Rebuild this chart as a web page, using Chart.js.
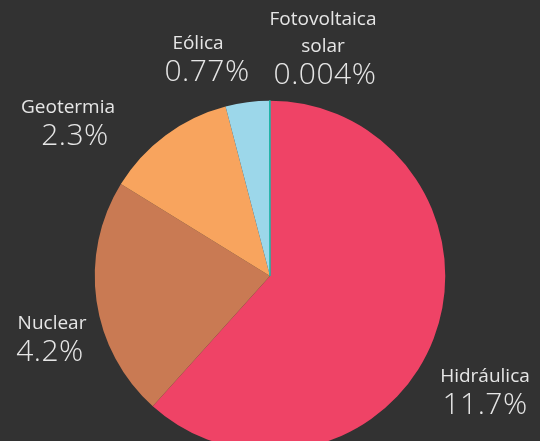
<!DOCTYPE html>
<html>
<head>
<meta charset="utf-8">
<script src="https://cdn.jsdelivr.net/npm/chart.js@4.4.1/dist/chart.umd.min.js"></script>
<style>
    html, body { margin: 0; padding: 0; background: #323232; overflow: hidden; }
    #wrap { width: 540px; height: 452px; }
</style>
</head>
<body>
<div id="wrap"><canvas id="pie" width="540" height="452"></canvas></div>
<script>
// Datos (porcentaje de la generación)
const categories = ['Hidráulica', 'Nuclear', 'Geotermia', 'Eólica', 'Fotovoltaica solar'];
const values = [11.7, 4.2, 2.3, 0.77, 0.004];
const valueLabels = ['11.7%', '4.2%', '2.3%', '0.77%', '0.004%'];
const colors = ['#ef4366', '#c97a53', '#f8a45e', '#9cd7ea', '#1db5a8'];

// label name lines + anchor (centre of text block)
const labelLayout = [
    { lines: ['Hidráulica'], x: 485, y: 377, dx: 0 },
    { lines: ['Nuclear'], x: 52, y: 324, dx: -2 },
    { lines: ['Geotermia'], x: 68, y: 108, dx: 7 },
    { lines: ['Eólica'], x: 198, y: 44, dx: 9 },
    { lines: ['Fotovoltaica', 'solar'], x: 323, y: 20, dx: 2 },
];

const labelPlugin = {
    id: 'labels',
    afterDraw(chart) {
        const ctx = chart.ctx;
        ctx.save();
        ctx.fillStyle = '#e6e6e6';
        ctx.textAlign = 'center';
        ctx.textBaseline = 'middle';
        labelLayout.forEach((lab, i) => {
            let y = lab.y;
            ctx.font = '19px "Open Sans"';
            ctx.letterSpacing = '0px';
            lab.lines.forEach(line => {
                ctx.fillText(line, lab.x, y);
                y += 27;
            });
            ctx.font = '300 30px "Open Sans"';
            ctx.letterSpacing = '0.5px';
            ctx.fillText(valueLabels[i], lab.x + lab.dx, y + 1);
        });
        ctx.restore();
    }
};

new Chart(document.getElementById('pie'), {
    type: 'pie',
    data: {
        labels: categories,
        datasets: [{
            data: values,
            backgroundColor: colors,
            borderColor: ['rgba(0,0,0,0)', 'rgba(0,0,0,0)', 'rgba(0,0,0,0)', 'rgba(0,0,0,0)', '#1db5a8'],
            borderWidth: [0, 0, 0, 0, 1.5],
        }],
    },
    options: {
        responsive: false,
        animation: false,
        layout: { padding: { top: 100 } },
        plugins: {
            legend: { display: false },
            tooltip: { enabled: false },
        },
    },
    plugins: [labelPlugin],
});
</script>
</body>
</html>
